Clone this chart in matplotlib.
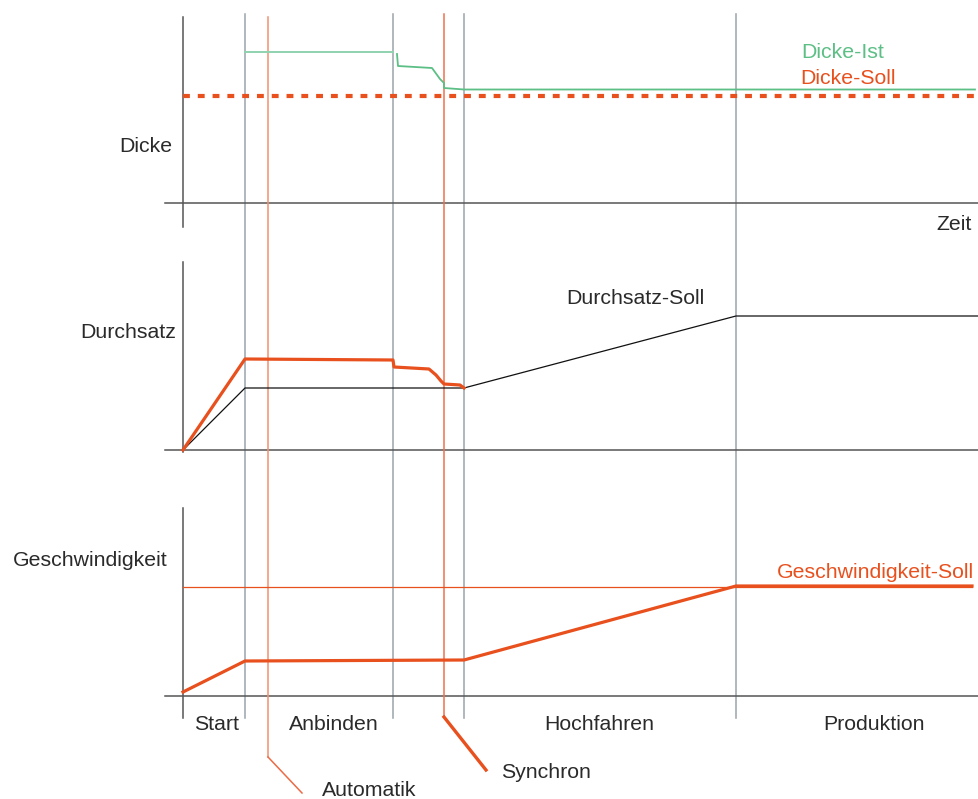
import matplotlib
matplotlib.use("Agg")
import matplotlib.pyplot as plt

plt.rcParams['font.family'] = ['Liberation Sans', 'DejaVu Sans']

# ---- data (chart coordinates: x = time, y = level; y axis inverted) ----
phase_x = [245, 393, 464, 736]          # phase boundaries (grey)
start_x = 183                            # time origin
end_x = 979
phase_names = ["Start", "Anbinden", "Hochfahren", "Produktion"]
phase_label_x = [217, 334, 599, 874]

# panel baselines and left-axis extents
baselines = [203, 450, 696]
axis_top = [17, 262, 508]
axis_bot = [227, 452, 718]
panel_names = ["Dicke", "Durchsatz", "Geschwindigkeit"]
panel_label_x = [172, 176, 168]
panel_label_y = [146, 333, 560]

# Dicke
dicke_soll_y = 96
dicke_ist_t = [245, 393, 397, 398, 432, 440, 444, 444, 464, 975]
dicke_ist_v = [52, 52, 54, 66, 68, 79, 83, 88, 89.5, 89.5]

# Durchsatz
ds_soll_t = [183, 245, 464, 736, 979]
ds_soll_v = [450, 388, 388, 316, 316]
ds_ist_t = [183, 245, 393, 394, 429, 436, 441, 444, 460, 464]
ds_ist_v = [450, 359, 360, 367, 369, 375, 381, 384, 385, 388]

# Geschwindigkeit
gs_t = [183, 245, 464, 736, 972]
gs_v = [692, 661, 660, 586, 586]
gs_soll_y = 587

# events (orange markers)
automatik_x = 268
synchron_x = 444

fig = plt.figure(figsize=(9.79, 7.99), dpi=100)
ax = fig.add_axes([0, 0, 1, 1])
ax.set_xlim(0, 979)
ax.set_ylim(799, 0)
ax.axis('off')

grey = '#9aa3ab'
dark = '#555555'
red = '#e8501e'
salmon = '#f39070'
green = '#5cbf85'
txt = '#2a2a2a'
fs = 15.3

# phase boundaries
for x in phase_x:
    ax.plot([x, x], [14, 718], color=grey, lw=1.1, zorder=1)

# left axes and baselines
for top, bot, base in zip(axis_top, axis_bot, baselines):
    ax.plot([start_x, start_x], [top, bot], color=dark, lw=1.1, zorder=2)
    ax.plot([165, end_x], [base, base], color=dark, lw=1.1, zorder=2)

# event lines
ax.plot([automatik_x, automatik_x], [17, 757], color=salmon, lw=1.1, zorder=3)
ax.plot([automatik_x, 302], [757, 793], color='#ec6a45', lw=1.1, zorder=3)
ax.plot([synchron_x, synchron_x], [14, 717], color='#f07050', lw=1.1, zorder=3)
ax.plot([synchron_x, 486], [717, 770], color=red, lw=2.4, zorder=3)

# Dicke
ax.plot([start_x, 975], [dicke_soll_y, dicke_soll_y], color=red, lw=3.0,
        dashes=(1.65, 1.9), zorder=4)
ax.plot(dicke_ist_t[:2], dicke_ist_v[:2], color='#8fd3b0', lw=1.4, zorder=4)
ax.plot(dicke_ist_t[2:], dicke_ist_v[2:], color=green, lw=1.3, zorder=4)

# Durchsatz
ax.plot(ds_soll_t, ds_soll_v, color='#111111', lw=0.9, zorder=4)
ax.plot(ds_ist_t, ds_ist_v, color=red, lw=2.3, zorder=5, solid_joinstyle='round')

# Geschwindigkeit
ax.plot([start_x, 972], [gs_soll_y, gs_soll_y], color=red, lw=0.9, zorder=4)
ax.plot(gs_t, gs_v, color=red, lw=2.3, zorder=5)

# texts
for name, x, y in zip(panel_names, panel_label_x, panel_label_y):
    ax.text(x, y, name, ha='right', va='center', fontsize=fs, color=txt)
ax.text(972, 225, "Zeit", ha='right', va='center', fontsize=fs, color=txt)
ax.text(635, 298, "Durchsatz-Soll", ha='center', va='center', fontsize=fs, color=txt)
ax.text(843, 52, "Dicke-Ist", ha='center', va='center', fontsize=fs, color=green)
ax.text(848, 79, "Dicke-Soll", ha='center', va='center', fontsize=fs, color=red)
ax.text(875, 572, "Geschwindigkeit-Soll", ha='center', va='center', fontsize=fs, color=red)
for name, x in zip(phase_names, phase_label_x):
    ax.text(x, 724, name, ha='center', va='center', fontsize=fs, color=txt)
ax.text(369, 790, "Automatik", ha='center', va='center', fontsize=fs, color=txt)
ax.text(546, 772, "Synchron", ha='center', va='center', fontsize=fs, color=txt)

fig.savefig("out.png", dpi=100)
